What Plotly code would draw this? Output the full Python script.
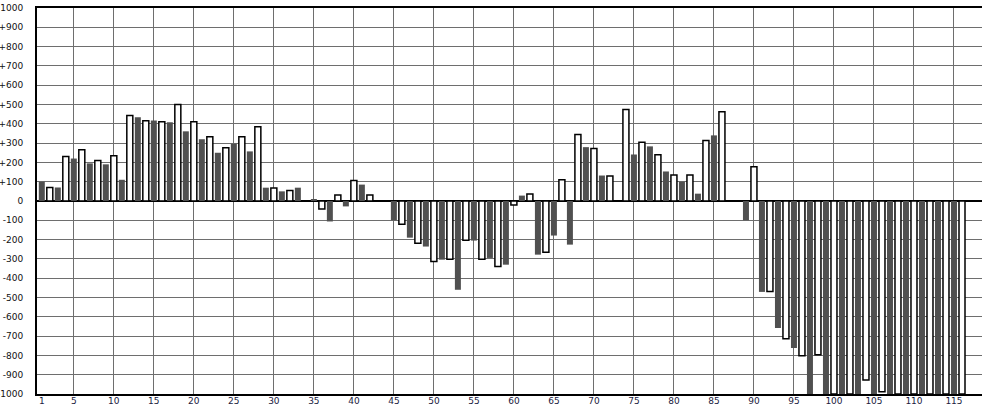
import plotly.graph_objects as go

# Odd positions (dark bars): x = 1, 3, ..., 115
dark_x = list(range(1, 116, 2))
dark_values = [100, 70, 220, 195, 190, 110, 434, 417, 408, 361,
               320, 250, 297, 257, 69, 50, 69, 7, -106, -28,
               85, None, -100, -190, -236, -304, -460, -205, -295, -330,
               28, -278, -179, -226, 279, 132, None, 241, 283, 153,
               100, 38, 340, None, -100, -471, -658, -762, -1000, -1000,
               -1000, -1000, -1000, -1000, -1000, -1000, -1000, -1000]

# Even positions (white bars): x = 2, 4, ..., 116
white_x = list(range(2, 117, 2))
white_values = [70, 230, 265, 210, 234, 443, 416, 411, 500, 411,
                333, 276, 333, 385, 68, 54, None, -42, 31, 106,
                31, None, -120, -219, -313, -302, -203, -302, -339, -21,
                36, -266, 110, 345, 272, 130, 474, 304, 240, 135,
                135, 314, 463, None, 177, -469, -714, -802, -797, -1000,
                -1000, -927, -988, -1000, -1000, -1000, -1000, -1000]

x_tick_vals = [1] + list(range(5, 116, 5))
x_tick_text = [str(v) for v in x_tick_vals]
y_tick_vals = list(range(-1000, 1001, 100))
y_tick_text = [("+" + str(v)) if v > 0 else str(v) for v in y_tick_vals]

fig = go.Figure()
fig.add_trace(go.Bar(x=dark_x, y=dark_values, width=0.75,
                     marker=dict(color="#505050", line=dict(width=0))))
fig.add_trace(go.Bar(x=white_x, y=white_values, width=0.75,
                     marker=dict(color="#ffffff", line=dict(color="#000000", width=1.5))))

fig.update_layout(
    width=982, height=406,
    margin=dict(l=37, r=0, t=8, b=12, autoexpand=False),
    paper_bgcolor="white", plot_bgcolor="white",
    barmode="overlay", showlegend=False,
    font=dict(family="DejaVu Sans", size=9, color="#111111"),
    xaxis=dict(range=[0.4, 118.5], tickmode="array", tickvals=x_tick_vals,
               ticktext=x_tick_text, showgrid=False, zeroline=False,
               showline=True, linecolor="#000000", linewidth=2, mirror=True,
               ticks="", ticklabelstandoff=-3, automargin=False,
               tickfont=dict(size=9, color="#1a1a40"),
               minor=dict(dtick=5, tick0=0, showgrid=True,
                          gridcolor="#6e6e6e", gridwidth=1)),
    yaxis=dict(range=[-1000, 1000], tickmode="array", tickvals=y_tick_vals,
               ticktext=y_tick_text, showgrid=True, gridcolor="#6e6e6e",
               gridwidth=1, zeroline=True, zerolinecolor="#000000",
               zerolinewidth=2, showline=True, linecolor="#000000",
               linewidth=2, ticks="", ticklabelstandoff=10, automargin=False,
               tickfont=dict(size=9, color="#111111")),
)

fig.write_html("out.html", config={"displayModeBar": False},
               post_script="document.body.style.margin='0';document.body.style.overflow='hidden';")
